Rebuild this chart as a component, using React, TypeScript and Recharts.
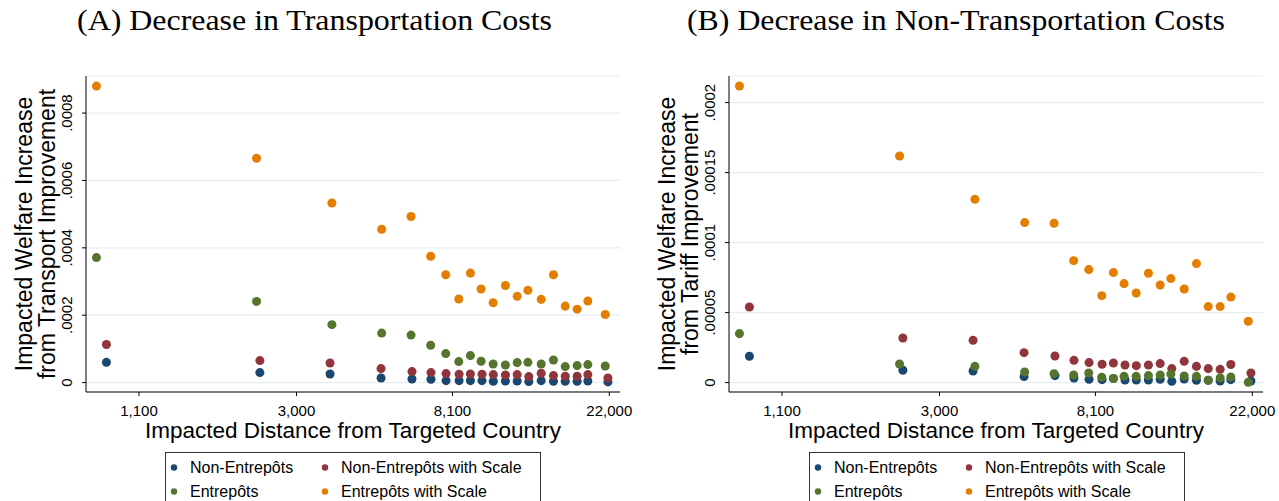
import React from "react";
import { ScatterChart, Scatter, XAxis, YAxis, CartesianGrid } from "recharts";

// Distances (km) of impacted country groups
const entrepotDistance = [839, 2326, 3759, 5161, 6223, 7052, 7762, 8434, 9082, 9721, 10498, 11351, 12234, 13096, 14257, 15414, 16614, 17926, 19187, 21440];
const nonEntrepotDistance = [894, 2376, 3715, 5141, 6260, 7066, 7778, 8451, 9082, 9779, 10509, 11351, 12234, 13174, 14257, 15414, 16614, 17926, 19187, 21807];

// Panel A: transport improvement
const transNonEntrepot = [0.0000602, 0.0000297, 0.0000255, 0.0000137, 0.0000107, 0.0000098, 0.0000059, 0.0000059, 0.0000059, 0.0000059, 0.0000039, 0.0000049, 0.0000049, 0.000003, 0.0000059, 0.0000039, 0.0000039, 0.0000039, 0.0000049, 0.000002];
const transNonEntrepotScale = [0.000113, 0.0000653, 0.0000582, 0.0000415, 0.0000326, 0.0000297, 0.0000267, 0.0000246, 0.0000255, 0.0000246, 0.0000237, 0.0000227, 0.0000237, 0.0000178, 0.0000276, 0.0000208, 0.0000187, 0.0000187, 0.0000237, 0.0000137];
const transEntrepot = [0.000371, 0.000241, 0.000172, 0.000147, 0.000141, 0.000111, 0.0000861, 0.0000623, 0.0000801, 0.0000632, 0.0000552, 0.0000522, 0.0000593, 0.0000602, 0.0000552, 0.0000671, 0.0000475, 0.0000504, 0.0000534, 0.0000493];
const transEntrepotScale = [0.00088, 0.000666, 0.000533, 0.000455, 0.000493, 0.000375, 0.00032, 0.000248, 0.000325, 0.000278, 0.000237, 0.000288, 0.000256, 0.000274, 0.000247, 0.00032, 0.000227, 0.000218, 0.000242, 0.000202];

// Panel B: tariff improvement
const tariffNonEntrepot = [0.0000188, 0.0000088, 0.0000083, 0.0000043, 0.000005, 0.0000033, 0.0000024, 0.0000021, 0.0000029, 0.0000019, 0.0000019, 0.0000019, 0.0000024, 0.0000009, 0.0000026, 0.0000017, 0.0000017, 0.0000012, 0.0000021, 0.0000012];
const tariffNonEntrepotScale = [0.000054, 0.0000319, 0.0000302, 0.0000214, 0.000019, 0.0000159, 0.0000143, 0.0000131, 0.000014, 0.0000126, 0.0000121, 0.0000126, 0.0000136, 0.00001, 0.0000152, 0.0000116, 0.00001, 0.0000095, 0.0000129, 0.0000069];
const tariffEntrepot = [0.000035, 0.0000133, 0.0000116, 0.0000076, 0.0000064, 0.0000054, 0.0000069, 0.0000038, 0.0000029, 0.0000045, 0.0000045, 0.000005, 0.0000054, 0.0000061, 0.0000047, 0.0000045, 0.0000017, 0.0000033, 0.000004, 0.0000002];
const tariffEntrepotScale = [0.0002119, 0.0001619, 0.0001309, 0.0001143, 0.0001138, 0.0000871, 0.0000807, 0.0000621, 0.0000786, 0.0000707, 0.000064, 0.0000781, 0.0000697, 0.0000743, 0.0000669, 0.000085, 0.0000543, 0.0000543, 0.0000611, 0.0000438];

const xTicks = [1100, 3000, 8100, 22000];
const xTickLabels = ["1,100", "3,000", "8,100", "22,000"];
const yTicksA = [0, 0.0002, 0.0004, 0.0006, 0.0008];
const yTickLabelsA = ["0", ".0002", ".0004", ".0006", ".0008"];
const yTicksB = [0, 0.00005, 0.0001, 0.00015, 0.0002];
const yTickLabelsB = ["0", ".00005", ".0001", ".00015", ".0002"];

const seriesNames = ["Non-Entrepôts", "Non-Entrepôts with Scale", "Entrepôts", "Entrepôts with Scale"];
const seriesColors = ["#1a476f", "#90353b", "#55752f", "#e37e00"];

const SANS = "'Liberation Sans', Arial, Helvetica, sans-serif";
const SERIF = "'Liberation Serif', 'Times New Roman', serif";

const toPoints = (xs: number[], ys: number[]) => xs.map((x, i) => ({ x, y: ys[i] }));

type PanelProps = {
  left: number;
  yLabel2: string;
  values: number[][];
  yTicks: number[];
  yTickLabels: string[];
  yDomain: [number, number];
};

function Panel({ left, yLabel2, values, yTicks, yTickLabels, yDomain }: PanelProps) {
  const xsFor = [nonEntrepotDistance, nonEntrepotDistance, entrepotDistance, entrepotDistance];
  const renderXTick = (p: any) => {
    const idx = xTicks.indexOf(p.payload.value);
    return (
      <text x={p.x} y={p.y} textAnchor="middle" fontFamily={SANS} fontSize={15} fill="#000">
        {idx >= 0 ? xTickLabels[idx] : String(p.payload.value)}
      </text>
    );
  };
  const renderYTick = (p: any) => {
    const idx = yTicks.indexOf(p.payload.value);
    return (
      <text
        x={p.x}
        y={p.y}
        textAnchor="middle"
        fontFamily={SANS}
        fontSize={15}
        fill="#000"
        transform={`rotate(-90, ${p.x}, ${p.y})`}
      >
        {idx >= 0 ? yTickLabels[idx] : String(p.payload.value)}
      </text>
    );
  };
  const renderXLabel = (p: any) => {
    const vb = p.viewBox || {};
    return (
      <text x={vb.x + vb.width / 2} y={vb.y + 46} textAnchor="middle" fontFamily={SANS} fontSize={22.5} fill="#000">
        Impacted Distance from Targeted Country
      </text>
    );
  };
  const renderYLabel = (p: any) => {
    const vb = p.viewBox || {};
    const right = vb.x + vb.width;
    const cy = vb.y + vb.height / 2;
    return (
      <g>
        <text x={right - 54} y={cy} textAnchor="middle" fontFamily={SANS} fontSize={23} fill="#000" transform={`rotate(-90, ${right - 54}, ${cy})`}>
          Impacted Welfare Increase
        </text>
        <text x={right - 31} y={cy} textAnchor="middle" fontFamily={SANS} fontSize={23} fill="#000" transform={`rotate(-90, ${right - 31}, ${cy})`}>
          {yLabel2}
        </text>
      </g>
    );
  };
  return (
    <div style={{ position: "absolute", left, top: 0 }}>
      <ScatterChart width={640} height={501} margin={{ top: 76, right: 20, bottom: 49, left: 0 }}>
        <CartesianGrid vertical={false} stroke="#e6eef1" strokeWidth={1.2} />
        <XAxis
          type="number"
          dataKey="x"
          scale="log"
          domain={[785, 23550]}
          allowDataOverflow
          ticks={xTicks}
          tick={renderXTick}
          tickSize={4}
          tickMargin={20}
          height={60}
          axisLine={{ stroke: "#000" }}
          tickLine={{ stroke: "#000" }}
          label={{ content: renderXLabel }}
        />
        <YAxis
          type="number"
          dataKey="y"
          domain={yDomain}
          allowDataOverflow
          ticks={yTicks}
          tick={renderYTick}
          tickSize={4}
          tickMargin={9.5}
          width={86}
          axisLine={{ stroke: "#000" }}
          tickLine={{ stroke: "#000" }}
          label={{ content: renderYLabel }}
        />
        {values.map((ys, i) => (
          <Scatter
            key={seriesNames[i]}
            name={seriesNames[i]}
            data={toPoints(xsFor[i], ys)}
            fill={seriesColors[i]}
            shape="circle"
            isAnimationActive={false}
          />
        ))}
      </ScatterChart>
    </div>
  );
}

function LegendBox({ left }: { left: number }) {
  const rows = [
    [0, 1],
    [2, 3],
  ];
  return (
    <g>
      <rect x={left + 0.5} y={452.5} width={375} height={60} fill="#fff" stroke="#333" strokeWidth={1} />
      {rows.map((row, r) =>
        row.map((si, c) => {
          const dx = left + (c === 0 ? 9 : 160);
          const ty = r === 0 ? 467.5 : 491.5;
          return (
            <g key={si}>
              <circle cx={dx} cy={ty} r={3.2} fill={seriesColors[si]} />
              <text x={dx + 16} y={ty + 5.5} fontFamily={SANS} fontSize={16} fill="#000">
                {seriesNames[si]}
              </text>
            </g>
          );
        })
      )}
    </g>
  );
}

export default function App() {
  return (
    <div style={{ position: "absolute", left: 0, top: 0, width: 1279, height: 501, background: "#fff", overflow: "hidden" }}>
      <Panel
        left={0}
        yLabel2="from Transport Improvement"
        values={[transNonEntrepot, transNonEntrepotScale, transEntrepot, transEntrepotScale]}
        yTicks={yTicksA}
        yTickLabels={yTickLabelsA}
        yDomain={[-0.0000279, 0.00091]}
      />
      <Panel
        left={643}
        yLabel2="from Tariff Improvement"
        values={[tariffNonEntrepot, tariffNonEntrepotScale, tariffEntrepot, tariffEntrepotScale]}
        yTicks={yTicksB}
        yTickLabels={yTickLabelsB}
        yDomain={[-0.0000067, 0.000219]}
      />
      <svg width={1279} height={501} style={{ position: "absolute", left: 0, top: 0, pointerEvents: "none" }}>
        <text x={77} y={30} fontFamily={SERIF} fontSize={29} fill="#000" textLength={475} lengthAdjust="spacingAndGlyphs">
          (A) Decrease in Transportation Costs
        </text>
        <text x={687} y={30} fontFamily={SERIF} fontSize={29} fill="#000" textLength={538} lengthAdjust="spacingAndGlyphs">
          (B) Decrease in Non-Transportation Costs
        </text>
        <LegendBox left={165} />
        <LegendBox left={809} />
      </svg>
    </div>
  );
}
